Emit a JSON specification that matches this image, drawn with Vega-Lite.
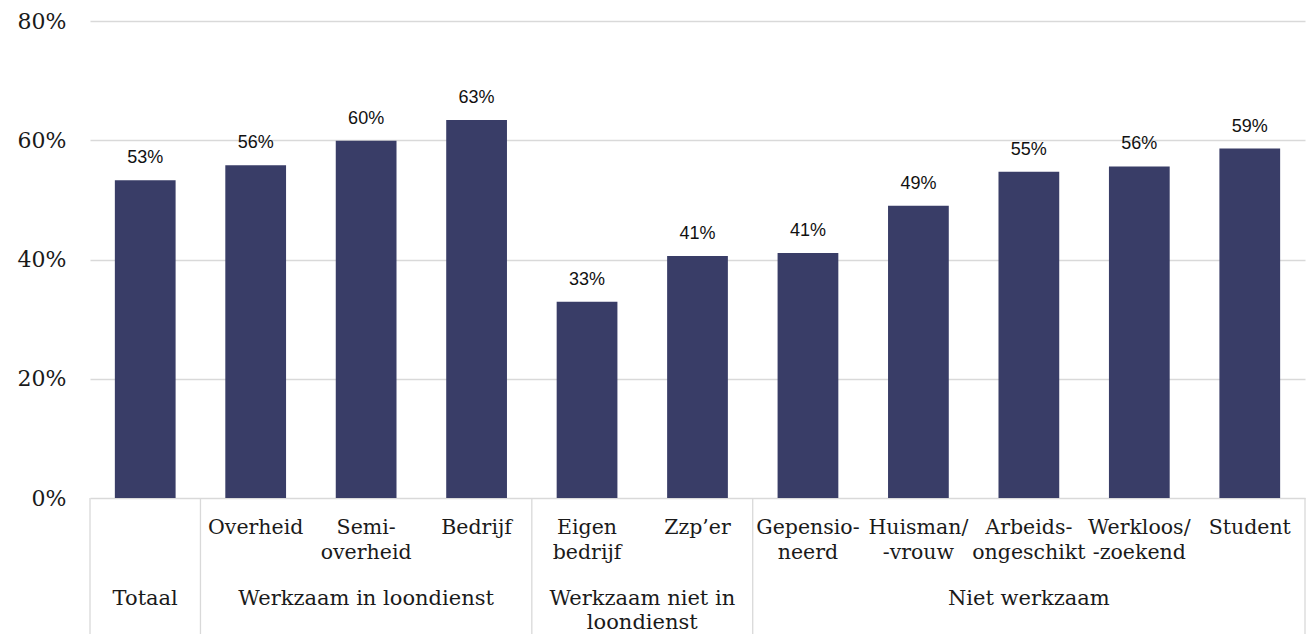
{
  "$schema": "https://vega.github.io/schema/vega-lite/v6.json",
  "autosize": {"type": "pad"},
  "padding": {"left": 17, "top": 10, "right": 7, "bottom": 0},
  "background": "white",
  "bounds": "flush",
  "config": {"view": {"stroke": null}, "concat": {"spacing": 0}},
  "spacing": 0,
  "datasets": {
    "cijfers": [
      {"categorie": "Totaal", "label": "", "waarde": 0.533},
      {"categorie": "Overheid", "label": "Overheid", "waarde": 0.558},
      {"categorie": "Semi-overheid", "label": "Semi-\noverheid", "waarde": 0.599},
      {"categorie": "Bedrijf", "label": "Bedrijf", "waarde": 0.634},
      {"categorie": "Eigen bedrijf", "label": "Eigen\nbedrijf", "waarde": 0.329},
      {"categorie": "Zzp’er", "label": "Zzp’er", "waarde": 0.406},
      {"categorie": "Gepensioneerd", "label": "Gepensio-\nneerd", "waarde": 0.411},
      {"categorie": "Huisman/-vrouw", "label": "Huisman/\n-vrouw", "waarde": 0.49},
      {"categorie": "Arbeidsongeschikt", "label": "Arbeids-\nongeschikt", "waarde": 0.547},
      {"categorie": "Werkloos/-zoekend", "label": "Werkloos/\n-zoekend", "waarde": 0.556},
      {"categorie": "Student", "label": "Student", "waarde": 0.586}
    ],
    "groepen": [
      {"groep": "Totaal", "anker": "Totaal", "positie": "midden"},
      {"groep": "Werkzaam in loondienst", "anker": "Semi-overheid", "positie": "midden"},
      {"groep": "Werkzaam niet in\nloondienst", "anker": "Zzp’er", "positie": "grens"},
      {"groep": "Niet werkzaam", "anker": "Arbeidsongeschikt", "positie": "midden"}
    ],
    "grenzen": [
      {"categorie": "Totaal", "zijde": "begin"},
      {"categorie": "Overheid", "zijde": "begin"},
      {"categorie": "Eigen bedrijf", "zijde": "begin"},
      {"categorie": "Gepensioneerd", "zijde": "begin"},
      {"categorie": "Student", "zijde": "eind"}
    ]
  },
  "resolve": {"scale": {"x": "shared"}},
  "vconcat": [
    {
      "width": 1215,
      "height": 477,
      "data": {"name": "cijfers"},
      "encoding": {
        "x": {
          "field": "categorie",
          "type": "nominal",
          "sort": null,
          "scale": {
            "domain": ["Totaal", "Overheid", "Semi-overheid", "Bedrijf", "Eigen bedrijf", "Zzp’er", "Gepensioneerd", "Huisman/-vrouw", "Arbeidsongeschikt", "Werkloos/-zoekend", "Student"],
            "paddingInner": 0,
            "paddingOuter": 0
          },
          "axis": null
        },
        "y": {
          "field": "waarde",
          "type": "quantitative",
          "scale": {"domain": [0, 0.8]},
          "axis": {
            "values": [0, 0.2, 0.4, 0.6, 0.8],
            "format": ".0%",
            "title": null,
            "grid": true,
            "gridColor": "#d9d9d9",
            "gridWidth": 1.3,
            "domain": false,
            "ticks": false,
            "labelFont": "DejaVu Serif",
            "labelFontSize": 22,
            "labelColor": "#1a1a1a",
            "labelPadding": 24
          }
        }
      },
      "layer": [
        {"mark": {"type": "bar", "color": "#393d67", "width": {"band": 0.55}}},
        {
          "mark": {"type": "text", "font": "Liberation Sans", "fontSize": 18, "color": "#111111", "baseline": "alphabetic", "dy": -17},
          "encoding": {"text": {"field": "waarde", "type": "quantitative", "format": ".0%"}}
        }
      ]
    },
    {
      "width": 1215,
      "height": 137,
      "layer": [
        {
          "data": {"name": "cijfers"},
          "mark": {"type": "text", "font": "DejaVu Serif", "fontSize": 20.5, "color": "#1a1a1a", "baseline": "top", "lineBreak": "\n", "lineHeight": 24.5, "dy": -14},
          "encoding": {
            "x": {"field": "categorie", "type": "nominal", "sort": null, "axis": null},
            "y": {"datum": "sub", "type": "nominal", "scale": {"domain": ["sub", "groep"], "type": "point", "padding": 0.5}, "axis": null},
            "text": {"field": "label"}
          }
        },
        {
          "data": {"name": "groepen"},
          "transform": [{"filter": "datum.positie === 'midden'"}],
          "mark": {"type": "text", "font": "DejaVu Serif", "fontSize": 21, "color": "#1a1a1a", "baseline": "top", "lineBreak": "\n", "lineHeight": 24.5, "dy": -13},
          "encoding": {
            "x": {"field": "anker", "type": "nominal", "sort": null, "axis": null},
            "y": {"datum": "groep", "type": "nominal", "axis": null},
            "text": {"field": "groep"}
          }
        },
        {
          "data": {"name": "groepen"},
          "transform": [{"filter": "datum.positie === 'grens'"}],
          "mark": {"type": "text", "font": "DejaVu Serif", "fontSize": 21, "color": "#1a1a1a", "baseline": "top", "lineBreak": "\n", "lineHeight": 24.5, "dy": -13},
          "encoding": {
            "x": {"field": "anker", "type": "nominal", "sort": null, "bandPosition": 0, "axis": null},
            "y": {"datum": "groep", "type": "nominal", "axis": null},
            "text": {"field": "groep"}
          }
        },
        {
          "data": {"name": "grenzen"},
          "transform": [{"filter": "datum.zijde === 'begin'"}],
          "mark": {"type": "rule", "color": "#d9d9d9", "strokeWidth": 1.3},
          "encoding": {
            "x": {"field": "categorie", "type": "nominal", "sort": null, "bandPosition": 0, "axis": null}
          }
        },
        {
          "data": {"name": "grenzen"},
          "transform": [{"filter": "datum.zijde === 'eind'"}],
          "mark": {"type": "rule", "color": "#d9d9d9", "strokeWidth": 1.3},
          "encoding": {
            "x": {"field": "categorie", "type": "nominal", "sort": null, "bandPosition": 1, "axis": null}
          }
        }
      ]
    }
  ]
}
